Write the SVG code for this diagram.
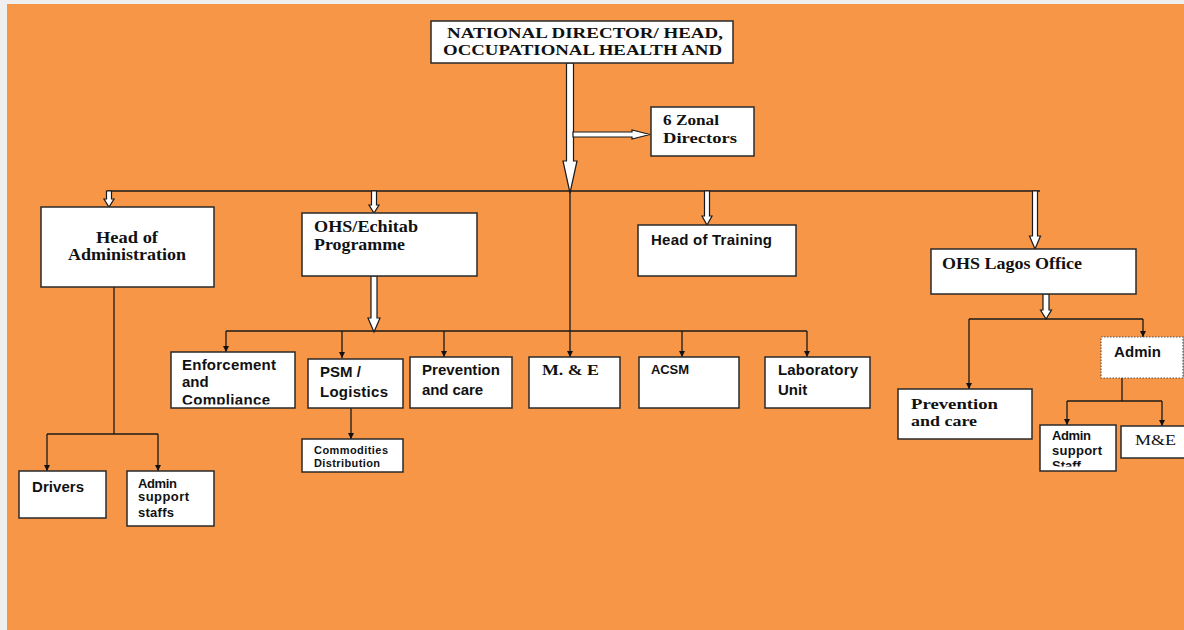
<svg xmlns="http://www.w3.org/2000/svg" width="1184" height="630" viewBox="0 0 1184 630">
<style>
.box{fill:#fff;stroke:#2a2a2a;stroke-width:1.5}
.dot{fill:#fff;stroke:#555;stroke-width:1.2;stroke-dasharray:1.5 1.5}
.ln{fill:none;stroke:#1a1a1a;stroke-width:1.3}
.wa{fill:#fff;stroke:#1a1a1a;stroke-width:1.2;stroke-linejoin:miter}
.sb{font-family:"Liberation Serif","Times New Roman",serif;font-weight:bold;fill:#111}
.sn{font-family:"Liberation Serif","Times New Roman",serif;fill:#111}
.ab{font-family:"Liberation Sans",Arial,sans-serif;font-weight:bold;fill:#111}
</style>
<defs>
<marker id="ah" markerUnits="userSpaceOnUse" markerWidth="7" markerHeight="7" refX="6" refY="3" orient="auto">
<path d="M0,0 L6,3 L0,6 z" fill="#111"/>
</marker>
<clipPath id="clipEnf"><rect x="171" y="352" width="124" height="52.5"/></clipPath>
<clipPath id="clipAss"><rect x="1040" y="425" width="76" height="41.5"/></clipPath>
</defs>
<rect x="0" y="0" width="1184" height="630" fill="#efefef"/>
<rect x="7" y="4" width="1177" height="626" fill="#F79646"/>

<g id="connectors">
<line class="ln" x1="107" y1="191" x2="1040" y2="191"/>
<line class="ln" x1="570" y1="192" x2="570" y2="357" marker-end="url(#ah)"/>
<line class="ln" x1="226" y1="331" x2="807" y2="331"/>
<line class="ln" x1="226" y1="331" x2="226" y2="352" marker-end="url(#ah)"/>
<line class="ln" x1="342" y1="331" x2="342" y2="358" marker-end="url(#ah)"/>
<line class="ln" x1="444" y1="331" x2="444" y2="357" marker-end="url(#ah)"/>
<line class="ln" x1="682" y1="331" x2="682" y2="357" marker-end="url(#ah)"/>
<line class="ln" x1="807" y1="331" x2="807" y2="357" marker-end="url(#ah)"/>
<line class="ln" x1="351" y1="408" x2="351" y2="439" marker-end="url(#ah)"/>
<line class="ln" x1="114" y1="287" x2="114" y2="434"/>
<line class="ln" x1="47" y1="434" x2="158" y2="434"/>
<line class="ln" x1="47" y1="434" x2="47" y2="471" marker-end="url(#ah)"/>
<line class="ln" x1="158" y1="434" x2="158" y2="471" marker-end="url(#ah)"/>
<line class="ln" x1="969" y1="319" x2="1143" y2="319"/>
<line class="ln" x1="969" y1="319" x2="969" y2="389" marker-end="url(#ah)"/>
<line class="ln" x1="1143" y1="319" x2="1143" y2="337" marker-end="url(#ah)"/>
<line class="ln" x1="1122" y1="378" x2="1122" y2="401"/>
<line class="ln" x1="1067" y1="401" x2="1162" y2="401"/>
<line class="ln" x1="1067" y1="401" x2="1067" y2="425" marker-end="url(#ah)"/>
<line class="ln" x1="1162" y1="401" x2="1162" y2="426" marker-end="url(#ah)"/>
<polygon class="wa" points="566.5,63 573.5,63 573.5,161 577,161 570,193 563,161 566.5,161"/>
<polygon class="wa" points="573,132 632,132 632,130 650,134.5 632,139 632,137 573,137"/>
<polygon class="wa" points="106.5,191 111.5,191 111.5,199 114,199 109,207 104,199 106.5,199"/>
<polygon class="wa" points="371.5,191 376.5,191 376.5,205 379,205 374,213 369,205 371.5,205"/>
<polygon class="wa" points="704.5,191 709.5,191 709.5,216 712,216 707,225 702,216 704.5,216"/>
<polygon class="wa" points="1032.5,191 1037.5,191 1037.5,236 1040.5,236 1035,249 1029.5,236 1032.5,236"/>
<polygon class="wa" points="371,276 377,276 377,318 380,318 374,332 368,318 371,318"/>
<polygon class="wa" points="1043,294 1049,294 1049,310 1051.5,310 1046,319 1040.5,310 1043,310"/>
</g>

<g id="national-director">
<rect class="box" x="431" y="21" width="302" height="42"/>
<text class="sb" font-size="14" x="447" y="38" textLength="276" lengthAdjust="spacingAndGlyphs">NATIONAL DIRECTOR/ HEAD,</text>
<text class="sb" font-size="14" x="443" y="55" textLength="279" lengthAdjust="spacingAndGlyphs">OCCUPATIONAL HEALTH AND</text>
</g>
<g id="zonal-directors">
<rect class="box" x="651" y="107" width="103" height="49"/>
<text class="sb" font-size="15" x="663" y="125" textLength="56" lengthAdjust="spacingAndGlyphs">6 Zonal</text>
<text class="sb" font-size="15" x="663" y="143" textLength="74" lengthAdjust="spacingAndGlyphs">Directors</text>
</g>
<g id="head-admin">
<rect class="box" x="41" y="207" width="173" height="80"/>
<text class="sb" font-size="16" x="96" y="243" textLength="62" lengthAdjust="spacingAndGlyphs">Head of</text>
<text class="sb" font-size="16" x="68" y="260" textLength="118" lengthAdjust="spacingAndGlyphs">Administration</text>
</g>
<g id="ohs-echitab">
<rect class="box" x="302" y="213" width="175" height="63"/>
<text class="sb" font-size="16" x="314" y="232" textLength="104" lengthAdjust="spacingAndGlyphs">OHS/Echitab</text>
<text class="sb" font-size="16" x="314" y="250" textLength="91" lengthAdjust="spacingAndGlyphs">Programme</text>
</g>
<g id="head-training">
<rect class="box" x="638" y="225" width="158" height="51"/>
<text class="ab" font-size="15" x="651" y="245" textLength="121" lengthAdjust="spacing">Head of Training</text>
</g>
<g id="ohs-lagos">
<rect class="box" x="931" y="249" width="205" height="45"/>
<text class="sb" font-size="16" x="942" y="269" textLength="140" lengthAdjust="spacingAndGlyphs">OHS Lagos Office</text>
</g>
<g id="enforcement">
<rect class="box" x="171" y="352" width="124" height="56"/>
<g clip-path="url(#clipEnf)">
<text class="ab" font-size="15" x="182" y="370" textLength="94" lengthAdjust="spacing">Enforcement</text>
<text class="ab" font-size="15" x="182" y="387">and</text>
<text class="ab" font-size="15" x="182" y="405" textLength="88" lengthAdjust="spacing">Compliance</text>
</g>
</g>
<g id="psm">
<rect class="box" x="308" y="359" width="95" height="49"/>
<text class="ab" font-size="15" x="320" y="377">PSM /</text>
<text class="ab" font-size="15" x="320" y="397" textLength="68" lengthAdjust="spacing">Logistics</text>
</g>
<g id="commodities">
<rect class="box" x="302" y="439" width="101" height="33"/>
<text class="ab" font-size="11" x="314" y="454" textLength="74" lengthAdjust="spacing">Commodities</text>
<text class="ab" font-size="11" x="314" y="467" textLength="66" lengthAdjust="spacing">Distribution</text>
</g>
<g id="prevention">
<rect class="box" x="410" y="357" width="102" height="51"/>
<text class="ab" font-size="15" x="422" y="375" textLength="78" lengthAdjust="spacing">Prevention</text>
<text class="ab" font-size="15" x="422" y="395" textLength="61" lengthAdjust="spacing">and care</text>
</g>
<g id="m-and-e">
<rect class="box" x="529" y="357" width="91" height="51"/>
<text class="sb" font-size="14" x="542" y="375" textLength="57" lengthAdjust="spacingAndGlyphs">M. &amp; E</text>
</g>
<g id="acsm">
<rect class="box" x="639" y="357" width="100" height="51"/>
<text class="ab" font-size="13" x="651" y="374" textLength="38" lengthAdjust="spacing">ACSM</text>
</g>
<g id="laboratory">
<rect class="box" x="765" y="357" width="105" height="51"/>
<text class="ab" font-size="15" x="778" y="375" textLength="80" lengthAdjust="spacing">Laboratory</text>
<text class="ab" font-size="15" x="778" y="395">Unit</text>
</g>
<g id="drivers">
<rect class="box" x="19" y="471" width="87" height="47"/>
<text class="ab" font-size="15" x="32" y="492" textLength="52" lengthAdjust="spacing">Drivers</text>
</g>
<g id="admin-support-staffs">
<rect class="box" x="127" y="471" width="87" height="55"/>
<text class="ab" font-size="13" x="138" y="488" textLength="39" lengthAdjust="spacing">Admin</text>
<text class="ab" font-size="13" x="138" y="501" textLength="51" lengthAdjust="spacing">support</text>
<text class="ab" font-size="13" x="138" y="517" textLength="36" lengthAdjust="spacing">staffs</text>
</g>
<g id="lagos-prevention">
<rect class="box" x="898" y="389" width="134" height="50"/>
<text class="sb" font-size="15" x="911" y="409" textLength="87" lengthAdjust="spacingAndGlyphs">Prevention</text>
<text class="sb" font-size="15" x="911" y="426" textLength="66" lengthAdjust="spacingAndGlyphs">and care</text>
</g>
<g id="lagos-admin">
<rect class="dot" x="1101" y="337" width="82" height="41"/>
<text class="ab" font-size="15" x="1114" y="357" textLength="47" lengthAdjust="spacing">Admin</text>
</g>
<g id="lagos-admin-support">
<rect class="box" x="1040" y="425" width="76" height="46"/>
<g clip-path="url(#clipAss)">
<text class="ab" font-size="13" x="1052" y="440" textLength="39" lengthAdjust="spacing">Admin</text>
<text class="ab" font-size="13" x="1052" y="455" textLength="50" lengthAdjust="spacing">support</text>
<text class="ab" font-size="13" x="1052" y="470">Staff</text>
</g>
</g>
<g id="lagos-me">
<rect class="box" x="1121" y="426" width="64" height="32"/>
<text class="sn" font-size="15" x="1135" y="445" textLength="41" lengthAdjust="spacingAndGlyphs">M&amp;E</text>
</g>
</svg>
